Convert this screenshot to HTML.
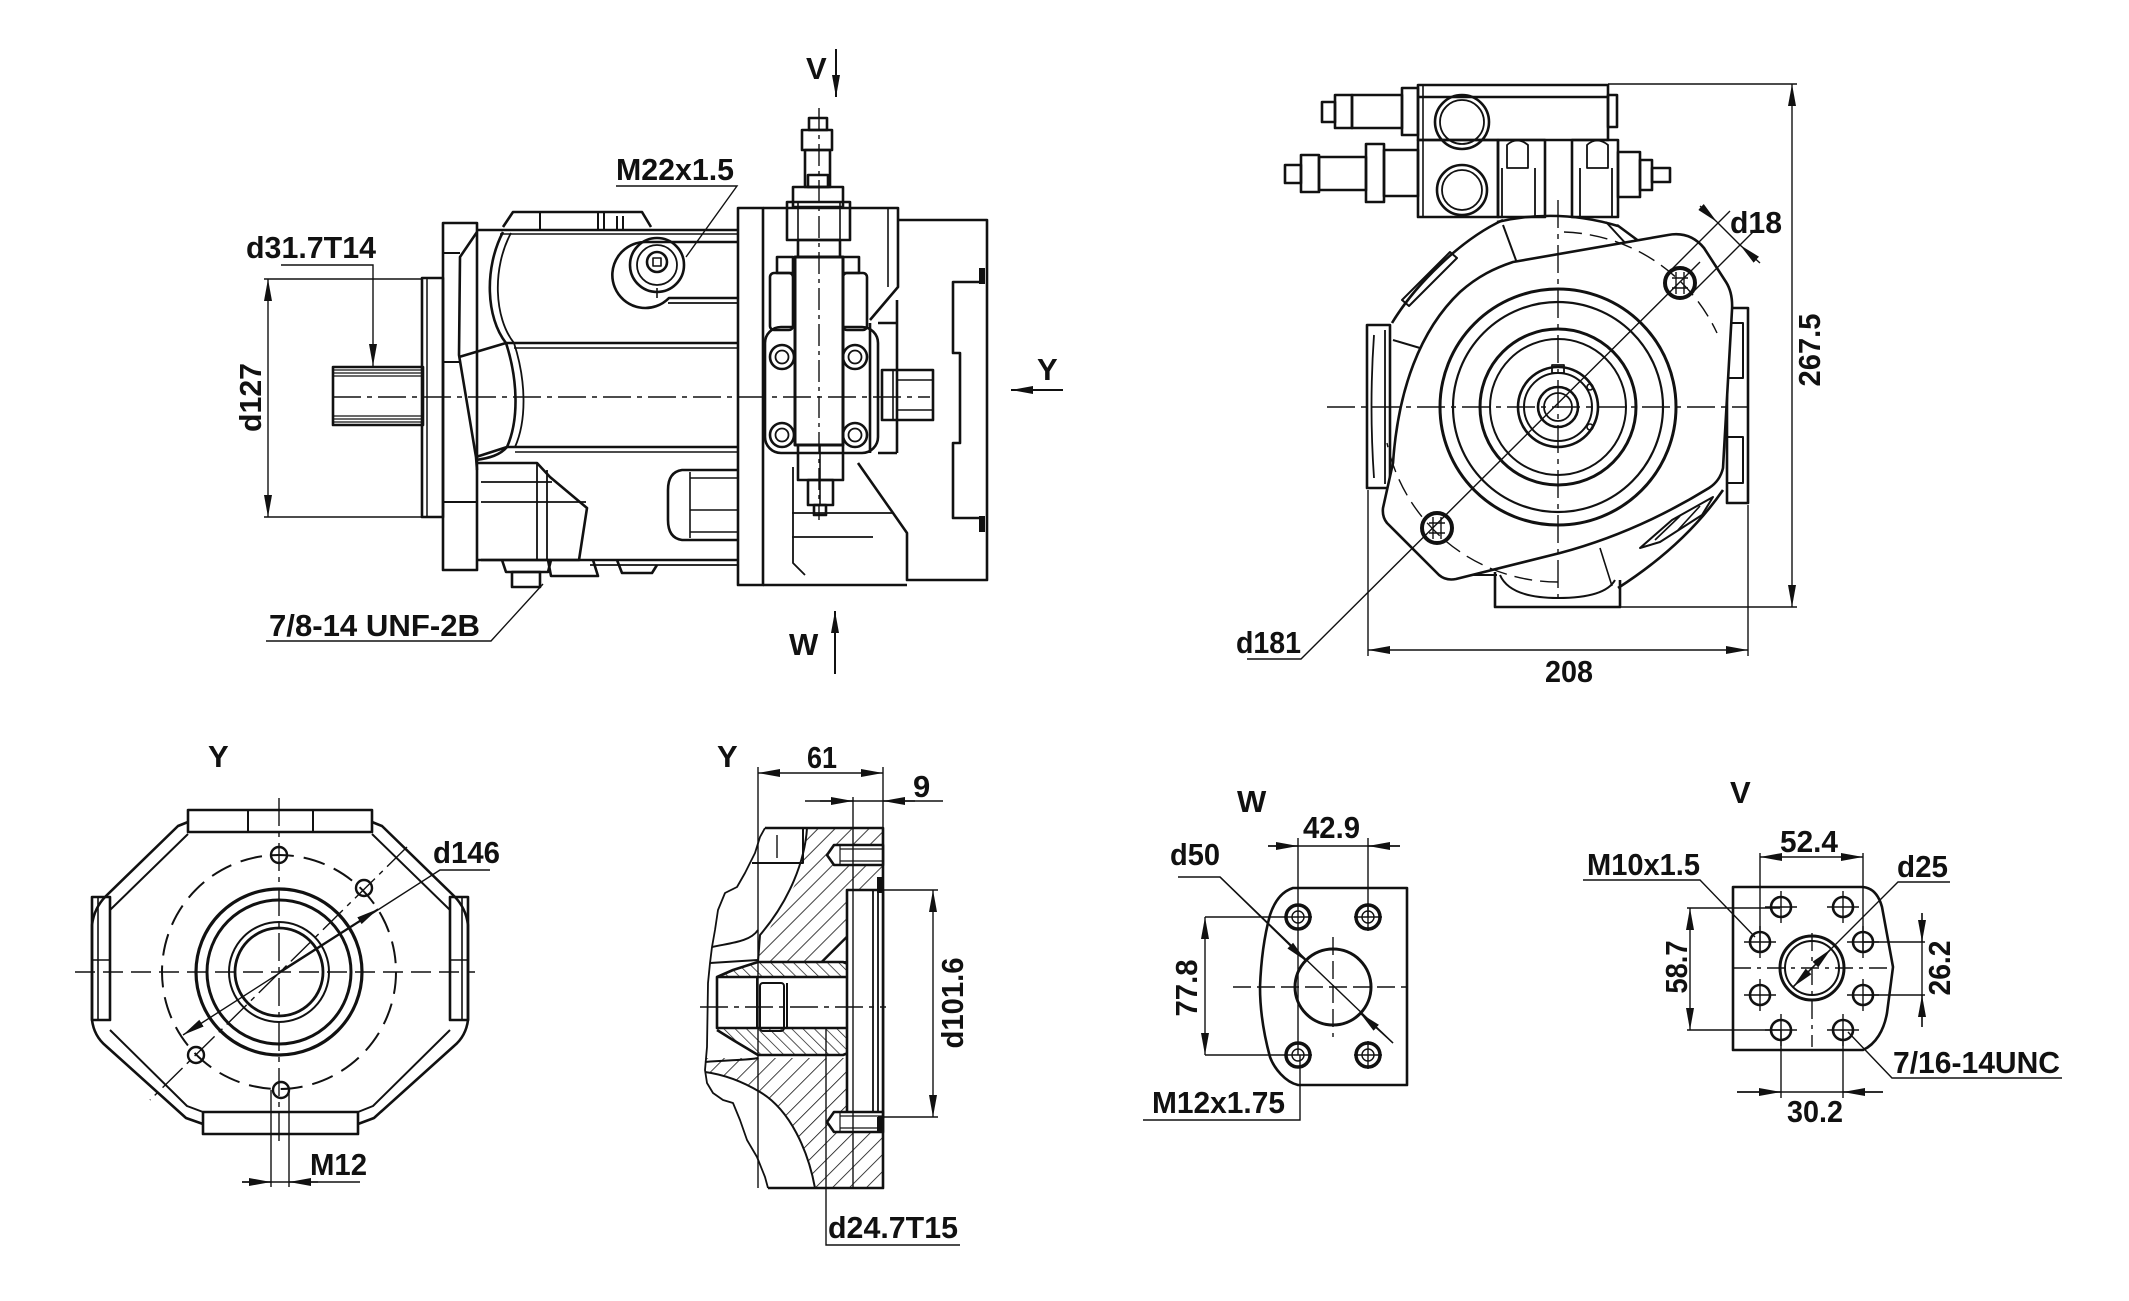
<!DOCTYPE html>
<html><head><meta charset="utf-8">
<style>
html,body{margin:0;padding:0;background:#fff;}
svg{display:block;}
text{font-family:"Liberation Sans",Arial,sans-serif;font-weight:bold;font-size:31px;fill:#111;}
</style></head><body>
<svg width="2129" height="1301" viewBox="0 0 2129 1301" xmlns="http://www.w3.org/2000/svg">
<defs>
<marker id="a" markerUnits="userSpaceOnUse" markerWidth="24" markerHeight="10" refX="22" refY="5" orient="auto-start-reverse" viewBox="0 0 24 10"><path d="M0,1 L22,5 L0,9 z" fill="#111"/></marker>
<pattern id="h1" patternUnits="userSpaceOnUse" width="12" height="12" patternTransform="rotate(45)"><line x1="0" y1="0" x2="0" y2="12" stroke="#111" stroke-width="1.6"/></pattern>
<pattern id="h2" patternUnits="userSpaceOnUse" width="8" height="8" patternTransform="rotate(-45)"><line x1="0" y1="0" x2="0" y2="8" stroke="#111" stroke-width="1.4"/></pattern>
</defs>
<rect width="2129" height="1301" fill="#fff"/>

<!-- ================= TOP-LEFT SIDE VIEW ================= -->
<g fill="none" stroke="#111" stroke-width="2.6" stroke-linejoin="round">
<rect x="333" y="367" width="90" height="58"/>
<path d="M333,370 H423 M333,373 H423 M333,376 H423 M333,416 H423 M333,419 H423 M333,422 H423" stroke-width="1.2"/>
<rect x="422" y="278" width="21" height="239"/>
<path d="M427,278 V517" stroke-width="1.5"/>
<rect x="443" y="223" width="34" height="347"/>
<path d="M477,232 L460,257 L459,355 L476,457 L477,470"/>
<path d="M443,253 H460 M443,502 H477 M443,362 H459" stroke-width="2"/>
<path d="M503,227 L513,212 H642 L651,227"/>
<path d="M540,213 V230 M598,213 V230 M604,213 V230 M617,216 V230 M623,216 V230" stroke-width="2"/>
<path d="M477,230 H738"/>
<path d="M500,234 H738" stroke-width="1.6"/>
<path d="M503,232 C484,268 486,318 506,343 C518,380 519,420 507,447 C500,455 490,458 476,460"/>
<path d="M511,233 C492,268 494,318 514,343 C526,380 527,420 515,447" stroke-width="1.8"/>
<path d="M459,357 L506,343 M476,457 L507,447"/>
<path d="M506,343 H738 M507,447 H738"/>
<path d="M514,348 H738 M515,452 H738" stroke-width="1.6"/>
<!-- port boss -->
<path d="M738,242 H646 A33,33 0 1,0 669,298 H738"/>
<path d="M668,303 H738" stroke-width="1.8"/>
<circle cx="657" cy="265" r="27"/>
<circle cx="657" cy="265" r="20" stroke-width="1.8"/>
<circle cx="657" cy="262" r="10"/>
<rect x="653" y="258" width="8" height="8" stroke-width="1.6"/>
<path d="M657,288 V298" stroke-width="1.6"/>
<!-- lower port block -->
<path d="M478,463 H537 L550,477 L587,508 L579,560 H481"/>
<path d="M481,482 H552 M481,502 H586 M537,463 V560 M547,470 V560" stroke-width="1.8"/>
<path d="M478,560 H738"/>
<path d="M590,565 H738" stroke-width="1.8"/>
<path d="M502,560 L506,572 H548 L551,560"/>
<rect x="512" y="572" width="28" height="15"/>
<path d="M548,560 L551,576 H598 L593,560"/>
<path d="M617,560 L622,573 H652 L657,565"/>
<!-- lower right cylinder -->
<path d="M738,470 H682 Q668,472 668,490 V520 Q668,538 682,540 H738"/>
<path d="M690,472 V538 M690,478 H738 M690,510 H738 M690,532 H738" stroke-width="1.6"/>
<!-- rear flange/housing -->
<rect x="738" y="208" width="25" height="377"/>
<path d="M763,208 H898 V287 L870,320"/>
<path d="M888,208 V287" stroke-width="1.6"/>
<path d="M763,585 H907"/>
<path d="M898,220 H987 V580 H907 V533 L858,463"/>
<path d="M983,282 H953 V353 H960 V443 H953 V518 H983"/>
<path d="M792,513 H893 M792,537 H873 M793,467 V563 L805,575" stroke-width="1.8"/>
<!-- valve column -->
<rect x="809" y="118" width="18" height="12"/>
<rect x="802" y="130" width="30" height="20"/>
<rect x="805" y="150" width="25" height="37"/>
<rect x="808" y="175" width="20" height="12"/>
<rect x="793" y="187" width="50" height="20"/>
<rect x="787" y="202" width="63" height="38"/>
<path d="M798,202 V240 M840,202 V240" stroke-width="1.6"/>
<rect x="798" y="240" width="42" height="17"/>
<rect x="765" y="327" width="113" height="126" rx="16"/>
<rect x="795" y="257" width="48" height="188" stroke-width="3" fill="#fff"/>
<rect x="770" y="273" width="23" height="57" rx="4"/>
<rect x="843" y="273" width="24" height="57" rx="4"/>
<rect x="777" y="257" width="16" height="16"/>
<rect x="843" y="257" width="16" height="16"/>
<circle cx="782" cy="357" r="12"/><circle cx="782" cy="357" r="6.5" stroke-width="1.8"/>
<circle cx="855" cy="357" r="12"/><circle cx="855" cy="357" r="6.5" stroke-width="1.8"/>
<circle cx="782" cy="435" r="12"/><circle cx="782" cy="435" r="6.5" stroke-width="1.8"/>
<circle cx="855" cy="435" r="12"/><circle cx="855" cy="435" r="6.5" stroke-width="1.8"/>
<path d="M870,323 V453 M897,300 V453 M878,323 H897 M878,453 H897"/>
<rect x="882" y="370" width="51" height="50"/>
<path d="M893,370 V420 M897,370 V420 M897,380 H933 M897,410 H933" stroke-width="1.6"/>
<rect x="798" y="445" width="45" height="35"/>
<rect x="808" y="480" width="25" height="25"/>
<rect x="814" y="505" width="12" height="10"/>
<path d="M820,445 V505" stroke-width="1.6"/>
</g>
<rect x="979" y="268" width="6" height="16" fill="#111"/>
<rect x="979" y="516" width="6" height="16" fill="#111"/>
<g fill="none" stroke="#111" stroke-width="1.4">
<path d="M333,397 H930" stroke-dasharray="28 6 5 6"/>
<path d="M819,108 V520" stroke-dasharray="22 5 4 5"/>
<path d="M264,279 H422 M264,517 H422"/>
<path d="M268,279 V517" marker-start="url(#a)" marker-end="url(#a)"/>
<path d="M281,265 H373 V366" marker-end="url(#a)"/>
<path d="M616,186 H737 L686,257"/>
<path d="M266,641 H491 L543,584"/>
<path d="M836,49 V97" stroke-width="2" marker-end="url(#a)"/>
<path d="M835,674 V611" stroke-width="2" marker-end="url(#a)"/>
<path d="M1063,390 H1011" stroke-width="2" marker-end="url(#a)"/>
</g>

<!-- ================= TOP-RIGHT FRONT VIEW ================= -->
<g fill="none" stroke="#111" stroke-width="2.6" stroke-linejoin="round">
<!-- valve block -->
<rect x="1418" y="85" width="190" height="55"/>
<path d="M1418,97 H1608"/>
<rect x="1418" y="140" width="80" height="77"/>
<rect x="1498" y="140" width="47" height="77"/>
<rect x="1572" y="140" width="46" height="77"/>
<path d="M1423,85 V217" stroke-width="1.6"/>
<rect x="1608" y="95" width="9" height="32"/>
<path d="M1507,168 V145 Q1517,136 1528,145 V168 Z M1502,168 V217 M1535,168 V217 M1587,168 V145 Q1597,136 1608,145 V168 Z M1580,168 V217 M1612,168 V217" stroke-width="1.8"/>
<circle cx="1462" cy="122" r="27"/><circle cx="1462" cy="122" r="22" stroke-width="1.8"/>
<circle cx="1462" cy="190" r="25"/><circle cx="1462" cy="190" r="20" stroke-width="1.8"/>
<rect x="1402" y="88" width="16" height="47"/>
<rect x="1352" y="95" width="50" height="33"/>
<rect x="1335" y="95" width="17" height="33"/>
<rect x="1322" y="102" width="13" height="20"/>
<rect x="1384" y="150" width="34" height="46"/>
<rect x="1366" y="144" width="18" height="58"/>
<rect x="1319" y="157" width="47" height="33"/>
<rect x="1301" y="155" width="18" height="37"/>
<rect x="1285" y="165" width="16" height="18"/>
<rect x="1618" y="152" width="22" height="45"/>
<rect x="1640" y="160" width="12" height="30"/>
<rect x="1652" y="168" width="18" height="14"/>
<!-- housing -->
<path d="M1497,222 Q1558,208 1618,226"/>
<path d="M1503,220 C1460,240 1415,285 1392,323"/>
<path d="M1617,225 L1640,242 L1668,236"/>
<path d="M1503,225 L1517,263 M1606,222 L1628,246" stroke-width="2"/>
<path d="M1402,300 L1450,252 L1457,258 L1409,306 Z" stroke-width="2"/>
<path d="M1393,340 L1420,348" stroke-width="2"/>
<rect x="1367" y="325" width="23" height="163"/>
<path d="M1374,335 Q1369,406 1374,478 M1385,330 V484" stroke-width="1.8"/>
<rect x="1727" y="308" width="21" height="195"/>
<rect x="1727" y="323" width="16" height="55" stroke-width="2"/>
<rect x="1727" y="437" width="16" height="46" stroke-width="2"/>
<!-- lower housing and block -->
<path d="M1723,490 Q1685,545 1618,588"/>
<path d="M1495,572 V607 H1620 V580"/>
<path d="M1500,575 Q1510,598 1558,598 Q1605,598 1615,580" stroke-width="2"/>
<path d="M1470,575 H1497" stroke-width="2"/>
<!-- flange -->
<path d="M1513,262 L1668,235 Q1690,231 1704,248 L1726,282 Q1733,293 1732,310 L1723,468 Q1720,481 1709,488 C1670,512 1620,537 1560,553 L1456,579 Q1446,581 1439,575 L1387,523 Q1382,517 1383,508 L1393,463 C1398,390 1420,330 1460,292 C1478,276 1495,268 1513,262 Z" fill="#fff"/>
<path d="M1640,548 L1672,520 L1713,497 L1702,515 L1660,542 Z" stroke-width="2"/>
<path d="M1655,540 L1680,516 M1678,530 L1700,506" stroke-width="1.6"/>
<path d="M1600,548 L1612,586" stroke-width="1.6"/>
<!-- concentric circles -->
<circle cx="1558" cy="407" r="118" stroke-width="3"/>
<circle cx="1558" cy="407" r="105" stroke-width="2.2"/>
<circle cx="1558" cy="407" r="78" stroke-width="3"/>
<circle cx="1558" cy="407" r="68" stroke-width="2"/>
<circle cx="1558" cy="407" r="40" stroke-width="2.6"/>
<circle cx="1558" cy="407" r="34" stroke-width="2"/>
<circle cx="1558" cy="407" r="20" stroke-width="2.6"/>
<circle cx="1558" cy="407" r="14" stroke-width="1.8"/>
<rect x="1552" y="365" width="12" height="8" stroke-width="1.8"/>
<circle cx="1590" cy="387" r="3" stroke-width="1.6"/>
<circle cx="1590" cy="427" r="3" stroke-width="1.6"/>
<!-- holes -->
<circle cx="1680" cy="283" r="15" stroke-width="4"/>
<path d="M1672,278 H1688 M1672,288 H1688 M1676,272 V294 M1684,272 V294" stroke-width="1.4"/>
<circle cx="1437" cy="528" r="15" stroke-width="4"/>
<path d="M1429,523 H1445 M1429,533 H1445 M1433,517 V539 M1441,517 V539" stroke-width="1.4"/>
</g>
<g fill="none" stroke="#111" stroke-width="1.4">
<path d="M1327,407 H1747" stroke-dasharray="28 6 5 6"/>
<path d="M1558,200 V605" stroke-dasharray="28 6 5 6"/>
<path d="M1564,232 A175,175 0 0,1 1717,333" stroke-dasharray="18 8"/>
<path d="M1558,582 A175,175 0 0,1 1387,443" stroke-dasharray="18 8"/>
<path d="M1247,659 H1301 L1700,262"/>
<path d="M1669,272 L1730,211 M1691,294 L1755,230"/>
<path d="M1700,206 L1717,222" marker-end="url(#a)"/>
<path d="M1760,263 L1740,245" marker-end="url(#a)"/>
<path d="M1717,222 L1740,245"/>
<path d="M1608,84 H1797 M1620,607 H1797"/>
<path d="M1792,84 V607" marker-start="url(#a)" marker-end="url(#a)"/>
<path d="M1368,490 V656 M1748,505 V656"/>
<path d="M1368,650 H1748" marker-start="url(#a)" marker-end="url(#a)"/>
</g>

<!-- ================= BOTTOM: Y VIEW ================= -->
<g fill="none" stroke="#111" stroke-width="2.6" stroke-linejoin="round">
<rect x="188" y="810" width="184" height="22"/>
<path d="M248,810 V832 M313,810 V832" stroke-width="2"/>
<rect x="203" y="1112" width="155" height="22"/>
<rect x="92" y="897" width="18" height="123"/>
<rect x="450" y="897" width="18" height="123"/>
<path d="M98,897 V1020 M462,897 V1020 M92,960 H110 M450,960 H468" stroke-width="1.6"/>
<path d="M188,822 L178,826 L106,896 Q94,908 92,925 L92,1020 Q94,1036 106,1046 L186,1118 L203,1124"/>
<path d="M372,822 L382,826 L454,896 Q466,908 468,925 L468,1020 Q466,1036 454,1046 L374,1118 L358,1124"/>
<path d="M188,834 L110,910 M110,1030 L187,1106 L203,1112 M372,834 L450,910 M450,1030 L373,1106 L358,1112" stroke-width="2"/>
<circle cx="279" cy="972" r="83" stroke-width="3.2"/>
<circle cx="279" cy="972" r="72" stroke-width="3"/>
<circle cx="279" cy="972" r="50" stroke-width="2"/>
<circle cx="279" cy="972" r="44" stroke-width="2.8"/>
<circle cx="279" cy="855" r="8" stroke-width="2.4"/>
<circle cx="281" cy="1090" r="8" stroke-width="2.4"/>
<circle cx="364" cy="888" r="8" stroke-width="2.4"/>
<circle cx="196" cy="1055" r="8" stroke-width="2.4"/>
</g>
<g fill="none" stroke="#111" stroke-width="1.4">
<circle cx="279" cy="972" r="117" stroke-width="2" stroke-dasharray="22 10"/>
<path d="M75,972 H475" stroke-dasharray="20 8"/>
<path d="M279,798 V1145" stroke-dasharray="28 6 5 6"/>
<path d="M407,847 L150,1100" stroke-dasharray="28 6 5 6"/>
<path d="M183,1035 L440,870 H490" marker-start="url(#a)"/>
<path d="M279,972 L378,909" marker-end="url(#a)"/>
<path d="M271,1090 V1187 M289,1090 V1187 M242,1182 H360"/>
<path d="M242,1182 H271" marker-end="url(#a)"/>
<path d="M318,1182 H289" marker-end="url(#a)"/>
</g>

<!-- ================= BOTTOM: SECTION VIEW ================= -->
<path d="M807,828 L883,828 L883,878 L876,878 L868,890 L847,890 L847,937 L822,962 L758,962 C760,935 790,900 803,868 Z" fill="url(#h1)"/>
<path d="M706,1058 L853,1058 L847,1062 L847,1118 L883,1118 L883,1188 L815,1188 C808,1150 790,1110 760,1092 C740,1080 720,1074 705,1072 Z" fill="url(#h1)"/>
<path d="M717,977 L733,970 L758,962 L843,962 L853,966 L853,1051 L843,1055 L758,1055 L733,1040 L717,1030 Z" fill="url(#h2)"/>
<g fill="none" stroke="#111" stroke-width="2.6" stroke-linejoin="round">
<path d="M765,828 H883 V1188 H768"/>
<path d="M765,828 L760,837 L755,853 L745,873 L737,887 L725,893 L718,910 L715,930 L712,947 L710,963 L708,983 L707,1047 L705,1070 L707,1083 L713,1093 L723,1100 L733,1103 L740,1120 L747,1140 L757,1157 L765,1177 L768,1188" stroke-width="1.8"/>
<path d="M752,863 H803 V828 M807,828 C805,860 790,900 760,935 L758,962" stroke-width="2"/>
<path d="M777,835 V858" stroke-width="1.4"/>
<path d="M712,947 C730,943 750,942 758,930 M710,963 L758,960" stroke-width="2"/>
<path d="M717,977 L733,970 L758,962 L843,962 L853,966 L853,1051 L843,1055 L758,1055 L733,1040 L717,1030"/>
<rect x="717" y="977" width="136" height="51" fill="#fff"/>
<path d="M717,977 H853 M717,1028 H853 M757,977 V1028 M787,983 V1028" stroke-width="2"/>
<rect x="760" y="983" width="24" height="48" rx="3" stroke-width="2"/>
<path d="M705,1062 C730,1060 750,1060 758,1058 M815,1188 C808,1150 790,1110 760,1092 C740,1080 720,1074 705,1072" stroke-width="2"/>
<path d="M847,962 L822,962 M847,937 L822,962" stroke-width="2"/>
<rect x="847" y="890" width="36" height="228" fill="#fff"/>
<path d="M873,890 V1118 M878,890 V1118" stroke-width="1.8"/>
<path d="M834,845 H883 V865 H834 L827,855 Z" fill="#fff"/>
<path d="M840,849 H883 M840,861 H883 M840,845 V865" stroke-width="1.2"/>
<path d="M834,1112 H883 V1132 H834 L827,1122 Z" fill="#fff"/>
<path d="M840,1116 H883 M840,1128 H883 M840,1112 V1132" stroke-width="1.2"/>
</g>
<rect x="877" y="877" width="6" height="16" fill="#111"/>
<rect x="877" y="1117" width="6" height="16" fill="#111"/>
<g fill="none" stroke="#111" stroke-width="1.4">
<path d="M700,1007 H886" stroke-dasharray="28 6 5 6"/>
<path d="M758,767 V1188 M883,767 V828 M853,797 V1188"/>
<path d="M758,773 H883" marker-start="url(#a)" marker-end="url(#a)"/>
<path d="M805,801 H943"/>
<path d="M820,801 H853" marker-end="url(#a)"/>
<path d="M915,801 H883" marker-end="url(#a)"/>
<path d="M878,890 H938 M878,1117 H938"/>
<path d="M933,890 V1117" marker-start="url(#a)" marker-end="url(#a)"/>
<path d="M826,1028 V1245 H960"/>
</g>

<!-- ================= BOTTOM: W VIEW ================= -->
<g fill="none" stroke="#111" stroke-width="2.6" stroke-linejoin="round">
<path d="M1293,888 H1407 V1085 H1298 C1285,1082 1274,1068 1270,1057 C1264,1035 1260,1010 1260,987 C1261,960 1264,937 1270,915 C1275,900 1283,891 1293,888 Z"/>
<circle cx="1333" cy="987" r="38" stroke-width="3"/>
<circle cx="1298" cy="917" r="12" stroke-width="3.5"/><circle cx="1298" cy="917" r="6" stroke-width="1.4"/>
<circle cx="1368" cy="917" r="12" stroke-width="3.5"/><circle cx="1368" cy="917" r="6" stroke-width="1.4"/>
<circle cx="1298" cy="1055" r="12" stroke-width="3.5"/><circle cx="1298" cy="1055" r="6" stroke-width="1.4"/>
<circle cx="1368" cy="1055" r="12" stroke-width="3.5"/><circle cx="1368" cy="1055" r="6" stroke-width="1.4"/>
</g>
<g fill="none" stroke="#111" stroke-width="1.4">
<path d="M1233,987 H1407 M1333,937 V1037" stroke-dasharray="18 6"/>
<path d="M1284,917 H1312 M1354,917 H1382 M1284,1055 H1312 M1354,1055 H1382 M1368,903 V931 M1368,1041 V1069"/>
<path d="M1298,838 V1055 M1368,838 V917"/>
<path d="M1268,846 H1400"/>
<path d="M1268,846 H1298" marker-end="url(#a)"/>
<path d="M1400,846 H1368" marker-end="url(#a)"/>
<path d="M1205,917 H1287 M1205,1055 H1287"/>
<path d="M1205,917 V1055" marker-start="url(#a)" marker-end="url(#a)"/>
<path d="M1178,877 H1220 L1393,1043"/>
<path d="M1220,877 L1306,961" marker-end="url(#a)"/>
<path d="M1393,1043 L1360,1013" marker-end="url(#a)"/>
<path d="M1143,1120 H1300 V1055"/>
</g>

<!-- ================= BOTTOM: V VIEW ================= -->
<g fill="none" stroke="#111" stroke-width="2.6" stroke-linejoin="round">
<path d="M1733,887 H1863 C1873,888 1879,896 1882,907 L1893,967 L1887,1013 C1884,1030 1876,1044 1863,1050 H1733 Z"/>
<circle cx="1812" cy="968" r="32" stroke-width="3"/>
<circle cx="1812" cy="968" r="27" stroke-width="2"/>
<circle cx="1781" cy="907" r="10"/><circle cx="1843" cy="907" r="10"/>
<circle cx="1760" cy="942" r="10"/><circle cx="1863" cy="942" r="10"/>
<circle cx="1760" cy="995" r="10"/><circle cx="1863" cy="995" r="10"/>
<circle cx="1781" cy="1030" r="10"/><circle cx="1843" cy="1030" r="10"/>
</g>
<g fill="none" stroke="#111" stroke-width="1.4">
<path d="M1765,907 H1797 M1827,907 H1859 M1744,942 H1776 M1847,942 H1879 M1744,995 H1776 M1847,995 H1879 M1765,1030 H1797 M1827,1030 H1859"/>
<path d="M1781,891 V923 M1843,891 V923 M1760,926 V958 M1863,926 V958 M1760,979 V1011 M1863,979 V1011 M1781,1014 V1046 M1843,1014 V1046"/>
<path d="M1733,968 H1888 M1812,933 V1047" stroke-dasharray="18 6 4 6"/>
<path d="M1687,908 H1780 M1687,1030 H1780"/>
<path d="M1690,908 V1030" marker-start="url(#a)" marker-end="url(#a)"/>
<path d="M1760,853 V953 M1863,853 V953"/>
<path d="M1760,857 H1863" marker-start="url(#a)" marker-end="url(#a)"/>
<path d="M1863,942 H1925 M1863,995 H1925"/>
<path d="M1922,913 V1027"/>
<path d="M1922,913 V942" marker-end="url(#a)"/>
<path d="M1922,1027 V995" marker-end="url(#a)"/>
<path d="M1781,1030 V1098 M1843,1030 V1098"/>
<path d="M1737,1092 H1883"/>
<path d="M1737,1092 H1781" marker-end="url(#a)"/>
<path d="M1883,1092 H1843" marker-end="url(#a)"/>
<path d="M1583,880 H1700 L1755,937"/>
<path d="M1950,882 H1898 L1793,987"/>
<path d="M1812,968 L1793,987" marker-end="url(#a)"/>
<path d="M1812,968 L1831,949" marker-end="url(#a)"/>
<path d="M2062,1078 H1892 L1848,1032"/>
</g>

<!-- ================= TEXT ================= -->
<text x="806" y="79">V</text>
<text x="616" y="180" textLength="118" lengthAdjust="spacingAndGlyphs">M22x1.5</text>
<text x="246" y="258" textLength="130" lengthAdjust="spacingAndGlyphs">d31.7T14</text>
<text transform="translate(261,397.5) rotate(-90)" text-anchor="middle" textLength="69" lengthAdjust="spacingAndGlyphs">d127</text>
<text x="1037" y="380">Y</text>
<text x="789" y="655">W</text>
<text x="269" y="636" textLength="211" lengthAdjust="spacingAndGlyphs">7/8-14 UNF-2B</text>
<text x="1730" y="233" textLength="52" lengthAdjust="spacingAndGlyphs">d18</text>
<text transform="translate(1820,350) rotate(-90)" text-anchor="middle" textLength="73" lengthAdjust="spacingAndGlyphs">267.5</text>
<text x="1236" y="653" textLength="65" lengthAdjust="spacingAndGlyphs">d181</text>
<text x="1545" y="682" textLength="48" lengthAdjust="spacingAndGlyphs">208</text>
<text x="208" y="767">Y</text>
<text x="433" y="863" textLength="67" lengthAdjust="spacingAndGlyphs">d146</text>
<text x="310" y="1175" textLength="57" lengthAdjust="spacingAndGlyphs">M12</text>
<text x="717" y="767">Y</text>
<text x="807" y="768" textLength="30" lengthAdjust="spacingAndGlyphs">61</text>
<text x="913" y="797">9</text>
<text transform="translate(963,1003) rotate(-90)" text-anchor="middle" textLength="91" lengthAdjust="spacingAndGlyphs">d101.6</text>
<text x="828" y="1238" textLength="130" lengthAdjust="spacingAndGlyphs">d24.7T15</text>
<text x="1237" y="812">W</text>
<text x="1303" y="838" textLength="57" lengthAdjust="spacingAndGlyphs">42.9</text>
<text x="1170" y="865" textLength="50" lengthAdjust="spacingAndGlyphs">d50</text>
<text transform="translate(1197,988) rotate(-90)" text-anchor="middle" textLength="57" lengthAdjust="spacingAndGlyphs">77.8</text>
<text x="1152" y="1113" textLength="133" lengthAdjust="spacingAndGlyphs">M12x1.75</text>
<text x="1730" y="803">V</text>
<text x="1780" y="852" textLength="58" lengthAdjust="spacingAndGlyphs">52.4</text>
<text x="1587" y="875" textLength="113" lengthAdjust="spacingAndGlyphs">M10x1.5</text>
<text x="1897" y="877" textLength="51" lengthAdjust="spacingAndGlyphs">d25</text>
<text transform="translate(1687,967) rotate(-90)" text-anchor="middle" textLength="53" lengthAdjust="spacingAndGlyphs">58.7</text>
<text transform="translate(1950,968) rotate(-90)" text-anchor="middle" textLength="55" lengthAdjust="spacingAndGlyphs">26.2</text>
<text x="1787" y="1122" textLength="56" lengthAdjust="spacingAndGlyphs">30.2</text>
<text x="1893" y="1073" textLength="167" lengthAdjust="spacingAndGlyphs">7/16-14UNC</text>
</svg>
</body></html>
